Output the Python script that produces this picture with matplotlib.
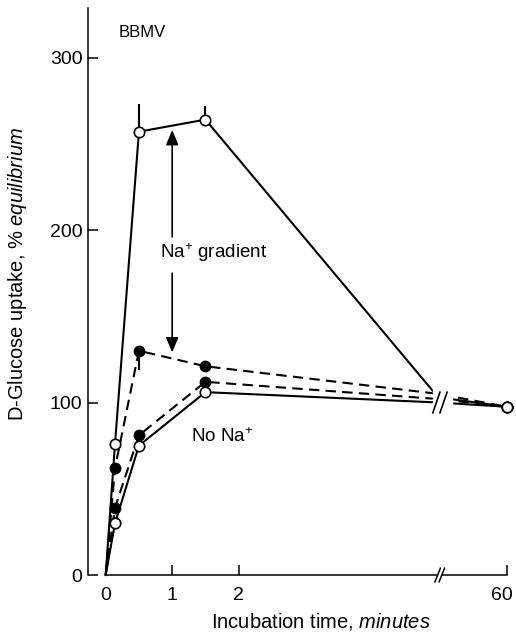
import numpy as np
import matplotlib
matplotlib.use("Agg")
import matplotlib.pyplot as plt
import matplotlib.transforms as mtransforms
from matplotlib.patches import Rectangle

plt.rcParams["font.family"] = "Liberation Sans"
plt.rcParams["mathtext.fontset"] = "custom"
plt.rcParams["mathtext.rm"] = "Liberation Sans"
plt.rcParams["mathtext.it"] = "Liberation Sans:italic"

# incubation time (min); 5.0 = where the lines run into the axis break
times = [0, 0.14, 0.5, 1.5, 5.0, 60]
open_na = [0, 76, 257, 264, 103, 97.5]      # Na+ gradient, open circles
filled_na = [0, 62, 130, 121, 105, 97.5]    # Na+ gradient, filled circles
filled_nona = [0, 39, 81, 112, 102, 97.5]   # no Na+, filled circles
open_nona = [0, 30, 75, 106, 100, 97.5]     # no Na+, open circles
marked = [1, 2, 3, 5]

# error bars
err_t = [0.5, 1.5]
open_na_err_up = [16, 8]
filled_na_err_low = [11]

yticks = [0, 100, 200, 300]
xticks = [0, 1, 2, 60]
xticklabels = ["0", "1", "2", "60"]

# broken time axis: linear up to the break, squeezed after it
BRK = 5.03
K = (6.035 - BRK) / (60 - BRK)


def fwd(t):
    t = np.asarray(t, dtype=float)
    return np.where(t <= BRK, t, BRK + (t - BRK) * K)


def inv(d):
    d = np.asarray(d, dtype=float)
    return np.where(d <= BRK, d, BRK + (d - BRK) / K)


fig = plt.figure(figsize=(5.16, 6.33), dpi=100)
ax = fig.add_axes([88 / 516, 58 / 633, 419 / 516, 567 / 633])
ax.set_xscale("function", functions=(fwd, inv))

lw = 1.5
ms = 7.5
dash = (0, (5, 3))
ax.plot(times, filled_na, color="k", lw=lw, linestyle=dash, marker="o", ms=ms,
        mfc="k", mec="k", markevery=marked, zorder=3)
ax.plot(times, filled_nona, color="k", lw=lw, linestyle=dash, marker="o", ms=ms,
        mfc="k", mec="k", markevery=marked, zorder=3)
ax.plot(times, open_nona, color="k", lw=lw, marker="o", ms=ms, mfc="white",
        mec="k", mew=1.2, markevery=marked, zorder=4)
ax.plot(times, open_na, color="k", lw=lw, marker="o", ms=ms, mfc="white",
        mec="k", mew=1.2, markevery=marked, zorder=4)

ax.errorbar(err_t, [open_na[2], open_na[3]], yerr=[[0, 0], open_na_err_up],
            fmt="none", ecolor="k", elinewidth=1.5, zorder=2)
ax.errorbar([0.5], [filled_na[2]], yerr=[filled_na_err_low, [0]],
            fmt="none", ecolor="k", elinewidth=1.5, zorder=2)

# double arrow for the gradient
head = "-|>,head_length=0.6,head_width=0.25"
ax.annotate("", xy=(1, 258), xytext=(1, 196),
            arrowprops=dict(arrowstyle=head, mutation_scale=15, lw=1.2,
                            color="k", shrinkA=0, shrinkB=0))
ax.annotate("", xy=(1, 129), xytext=(1, 175),
            arrowprops=dict(arrowstyle=head, mutation_scale=15, lw=1.2,
                            color="k", shrinkA=0, shrinkB=0))

ax.text(0.82, 187, "Na$^{+}$ gradient", fontsize=13.5, va="center", ha="left")
ax.text(1.28, 80, "No Na$^{+}$", fontsize=13.5, va="center", ha="left")
ax.text(0.074, 0.956, "BBMV", fontsize=12, va="center", ha="left",
        transform=ax.transAxes)

# break marks on the lines
tr = mtransforms.blended_transform_factory(ax.transAxes, ax.transData)
ax.add_patch(Rectangle((0.823, 88), 0.046, 24, transform=tr, color="white",
                       zorder=5))
for x0 in (0.823, 0.840):
    ax.plot([x0, x0 + 0.017], [94, 106], transform=tr, color="k", lw=1.2,
            zorder=6)

# break marks on the x axis
ax.add_patch(Rectangle((0.836, -0.006), 0.007, 0.012, transform=ax.transAxes,
                       color="white", zorder=5, clip_on=False))
for x0 in (0.828, 0.838):
    ax.plot([x0, x0 + 0.013], [-0.012, 0.012], transform=ax.transAxes,
            color="k", lw=1.1, zorder=6, clip_on=False)

ax.set_xlim(-0.266, 60)
ax.set_ylim(0, 328.7)
ax.set_xticks(xticks)
ax.set_xticklabels(xticklabels)
ax.set_yticks(yticks)
ax.xaxis.set_minor_locator(matplotlib.ticker.NullLocator())

for s in ["top", "right"]:
    ax.spines[s].set_visible(False)
ax.spines["bottom"].set_bounds(0, 60)
ax.spines["left"].set_linewidth(1.1)
ax.spines["bottom"].set_linewidth(1.1)
ax.tick_params(axis="both", direction="in", length=7, width=1.1, labelsize=14)
ax.tick_params(axis="x", pad=9)
ax.tick_params(axis="y", pad=4)

# the last label sits against the right edge, nudge it in a little
last = ax.get_xticklabels()[-1]
last.set_transform(last.get_transform()
                   + mtransforms.ScaledTranslation(-5 / 100, 0, fig.dpi_scale_trans))

for line in ax.lines:
    line.set_clip_on(False)

ax.set_ylabel("D-Glucose uptake, $\\it{\\%\\ equilibrium}$", fontsize=14.5)
ax.yaxis.set_label_coords(-0.142, 0.531)
ax.set_xlabel("Incubation time, $\\it{minutes}$", fontsize=14.5)
ax.xaxis.set_label_coords(0.556, -0.064)

fig.savefig("out.png", dpi=100)
